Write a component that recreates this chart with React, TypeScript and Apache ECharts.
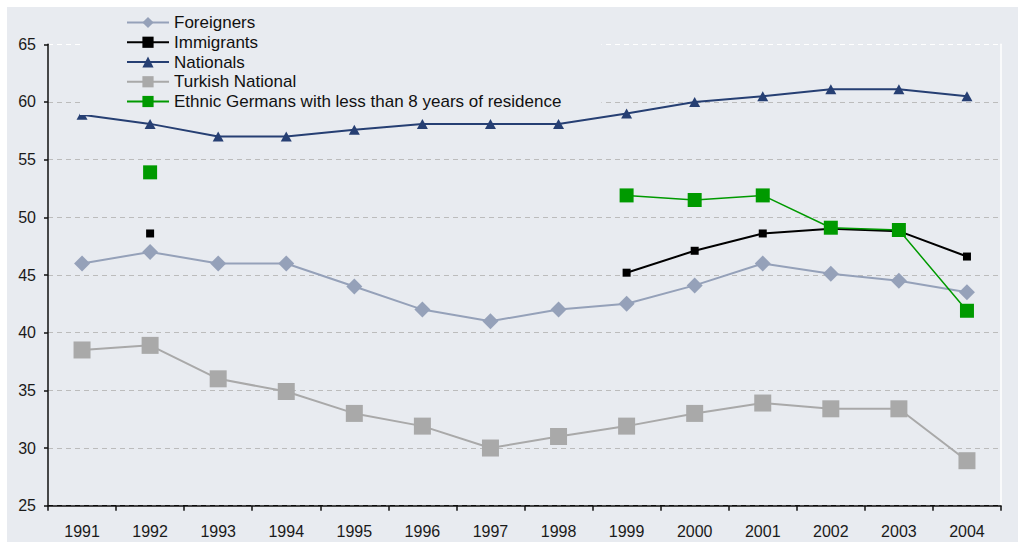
import React, { useEffect, useRef } from "react";
import * as echarts from "echarts";

const years = ["1991","1992","1993","1994","1995","1996","1997","1998","1999","2000","2001","2002","2003","2004"];
const foreigners = [46.0, 47.0, 46.0, 46.0, 44.0, 42.0, 41.0, 42.0, 42.5, 44.1, 46.0, 45.1, 44.5, 43.5];
const immigrants = [null, 48.6, null, null, null, null, null, null, 45.2, 47.1, 48.6, 49.0, 48.8, 46.6];
const nationals = [58.9, 58.1, 57.0, 57.0, 57.6, 58.1, 58.1, 58.1, 59.0, 60.0, 60.5, 61.1, 61.1, 60.5];
const turkish = [38.5, 38.9, 36.0, 34.9, 33.0, 31.9, 30.0, 31.0, 31.9, 33.0, 33.9, 33.4, 33.4, 28.9];
const ethnicGermans = [null, 53.9, null, null, null, null, null, null, 51.9, 51.5, 51.9, 49.1, 48.9, 41.9];

const FONT = "'Liberation Sans', Arial, sans-serif";
const BG = "#e8ebf0";

export default function App() {
  const ref = useRef<HTMLDivElement>(null);
  useEffect(() => {
    if (!ref.current) return;
    const chart = echarts.init(ref.current, null, { renderer: "svg" });
    const gridColors = ["#000", "#bcbcbc", "#bcbcbc", "#bcbcbc", "#bcbcbc", "#bcbcbc", "#bcbcbc", "#bcbcbc", "#ffffff"];
    chart.setOption({
      animation: false,
      backgroundColor: BG,
      textStyle: { fontFamily: FONT },
      grid: { left: 41, right: 17, top: 37.3, bottom: 36.3, containLabel: false },
      legend: {
        orient: "vertical",
        left: 73,
        top: 0,
        z: 20,
        padding: [7, 40, 5, 46],
        backgroundColor: BG,
        itemWidth: 42,
        itemHeight: 14,
        itemGap: 2.75,
        textStyle: { fontFamily: FONT, fontSize: 17, color: "#111", lineHeight: 17, padding: [0, 0, 0, 0] },
        data: ["Foreigners", "Immigrants", "Nationals", "Turkish National", "Ethnic Germans with less than 8 years of residence"],
      },
      xAxis: {
        type: "category",
        data: years,
        boundaryGap: true,
        axisLine: { lineStyle: { color: "#111", width: 1.5 } },
        axisTick: { show: true, length: 5, inside: false, lineStyle: { color: "#111", width: 1.5 } },
        axisLabel: { fontFamily: FONT, fontSize: 16, color: "#1a1a1a", margin: 18 },
        splitLine: { show: false },
      },
      yAxis: [
        {
          type: "value",
          min: 25,
          max: 65,
          interval: 5,
          axisLine: { show: true, lineStyle: { color: "#111", width: 1.5 } },
          axisTick: { show: true, length: 4, lineStyle: { color: "#111", width: 1.5 } },
          axisLabel: { fontFamily: FONT, fontSize: 16, color: "#1a1a1a", margin: 12 },
          splitLine: { show: true, lineStyle: { color: gridColors, type: [5, 4], width: 1 } },
        },
        {
          type: "value",
          min: 25,
          max: 65,
          interval: 5,
          position: "right",
          axisLine: { show: true, lineStyle: { color: "#ffffff", width: 1.5 } },
          axisTick: { show: false },
          axisLabel: { show: false },
          splitLine: { show: false },
        },
      ],
      series: [
        {
          name: "Foreigners",
          type: "line",
          data: foreigners,
          z: 3,
          symbol: "diamond",
          symbolSize: 16,
          showSymbol: true,
          connectNulls: false,
          lineStyle: { color: "#95a1b9", width: 2 },
          itemStyle: { color: "#95a1b9" },
        },
        {
          name: "Immigrants",
          type: "line",
          data: immigrants,
          z: 5,
          symbol: "rect",
          symbolSize: 8,
          connectNulls: false,
          lineStyle: { color: "#000", width: 2 },
          itemStyle: { color: "#000" },
        },
        {
          name: "Nationals",
          type: "line",
          data: nationals,
          z: 4,
          symbol: "triangle",
          symbolSize: [11, 10],
          lineStyle: { color: "#263f73", width: 2 },
          itemStyle: { color: "#263f73" },
        },
        {
          name: "Turkish National",
          type: "line",
          data: turkish,
          z: 2,
          symbol: "rect",
          symbolSize: 17,
          lineStyle: { color: "#a9a9a9", width: 2 },
          itemStyle: { color: "#a9a9a9" },
        },
        {
          name: "Ethnic Germans with less than 8 years of residence",
          type: "line",
          data: ethnicGermans,
          z: 6,
          symbol: "rect",
          symbolSize: 14,
          connectNulls: false,
          lineStyle: { color: "#009a00", width: 1.5 },
          itemStyle: { color: "#009a00" },
        },
      ],
    });
    return () => chart.dispose();
  }, []);
  return (
    <div
      ref={ref}
      style={{ position: "absolute", left: 7, top: 7, width: 1011, height: 535 }}
    />
  );
}
